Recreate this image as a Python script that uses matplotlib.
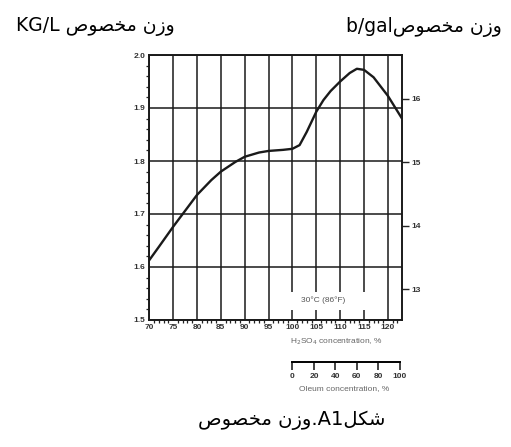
import numpy as np
import matplotlib
matplotlib.use('Agg')
import matplotlib.pyplot as plt
from matplotlib.ticker import MultipleLocator
from matplotlib.patches import Rectangle
import matplotlib.transforms as mtransforms

# H2SO4 concentration (%) vs specific gravity (kg/L)
conc = [70, 72, 75, 78, 80, 83, 85, 88, 90, 93, 95, 98, 100, 101.5, 103,
        105, 106.5, 108, 110, 112, 113.5, 115, 117, 120, 122.9]
sg = [1.613, 1.638, 1.676, 1.712, 1.736, 1.764, 1.780, 1.798, 1.808, 1.816,
      1.819, 1.821, 1.823, 1.830, 1.855, 1.893, 1.915, 1.932, 1.950, 1.966,
      1.974, 1.972, 1.958, 1.923, 1.881]

x_ticks = [70, 75, 80, 85, 90, 95, 100, 105, 110, 115, 120]
y_ticks = [1.5, 1.6, 1.7, 1.8, 1.9, 2.0]
lbgal_ticks = [13, 14, 15, 16]
oleum_ticks = [0, 20, 40, 60, 80, 100]

KG_PER_LBGAL = 0.119826

# arabic words written in presentation forms, visual order
waz_makhsus = '\ufeb9\ufeee\ufebc\ufea8\ufee3 \ufee5\ufeaf\ufeed'
shakl = '\ufede\ufedc\ufeb7'

fig = plt.figure(figsize=(5.11, 4.47), dpi=100)
ax = fig.add_axes([149.3 / 511, 127 / 447, 252.4 / 511, 265 / 447])

tick_font = dict(family='Liberation Sans', weight='bold', size=6, color='#333333')

ax.plot(conc, sg, color='#1a1a1a', lw=1.7)
ax.set_xlim(70, 122.9)
ax.set_ylim(1.5, 2.0)
ax.set_xticks(x_ticks)
ax.set_yticks(y_ticks)
ax.set_xticklabels([str(t) for t in x_ticks], fontdict=tick_font)
ax.set_yticklabels(['%.1f' % t for t in y_ticks], fontdict=tick_font)
ax.xaxis.set_minor_locator(MultipleLocator(1))
ax.yaxis.set_minor_locator(MultipleLocator(0.02))
ax.tick_params(which='major', length=0, pad=3)
ax.tick_params(which='minor', length=2, width=0.9, direction='out', color='#222222')
ax.grid(True, which='major', color='#1a1a1a', lw=1.1)
for s in ax.spines.values():
    s.set_linewidth(1.4)
    s.set_color('#1a1a1a')

# lb/gal on the right
sec_y = ax.secondary_yaxis('right', functions=(lambda k: k / KG_PER_LBGAL,
                                                lambda p: p * KG_PER_LBGAL))
sec_y.set_yticks(lbgal_ticks)
sec_y.set_yticklabels([str(t) for t in lbgal_ticks], fontdict=tick_font)
sec_y.tick_params(length=5, width=1.0, direction='out', pad=2, color='#222222')
sec_y.spines['right'].set_visible(False)

# oleum axis below
sec_x = ax.secondary_xaxis(-0.158, functions=(lambda c: (c - 100) / 0.225,
                                              lambda o: 100 + 0.225 * o))
sec_x.set_xticks(oleum_ticks)
sec_x.set_xticklabels([str(t) for t in oleum_ticks], fontdict=tick_font)
sec_x.tick_params(length=6, width=1.2, direction='out', pad=2, color='#222222')
sec_x.spines['bottom'].set_bounds(0, 100)
sec_x.spines['bottom'].set_linewidth(1.4)

# white box behind the temperature note, breaking the grid lines
ax.add_patch(Rectangle((99.3, 1.519), 16.5, 0.034, facecolor='white',
                       edgecolor='none', zorder=4))
ax.text(106.4, 1.538, '30°C (86°F)', ha='center', va='center', fontsize=6,
        family='Liberation Sans', color='#555555', zorder=5)

trans = mtransforms.blended_transform_factory(ax.transData, ax.transAxes)
ax.text(109.3, -0.083, r'H$_2$SO$_4$ concentration, %', transform=trans,
        ha='center', va='center', fontsize=6, family='Liberation Sans',
        color='#666666')
ax.text(110.8, -0.257, 'Oleum concentration, %', transform=trans,
        ha='center', va='center', fontsize=6, family='Liberation Sans',
        color='#666666')

fig.text(16 / 511, 1 - 27 / 447, 'KG/L ' + waz_makhsus, ha='left', va='center',
         fontsize=13.5, family='DejaVu Sans')
fig.text(502 / 511, 1 - 27 / 447, 'b/gal' + waz_makhsus, ha='right', va='center',
         fontsize=13.5, family='DejaVu Sans')
fig.text(292 / 511, 1 - 420 / 447, waz_makhsus + '.A1' + shakl, ha='center',
         va='center', fontsize=14, family='DejaVu Sans')

fig.savefig('out.png', dpi=100)
